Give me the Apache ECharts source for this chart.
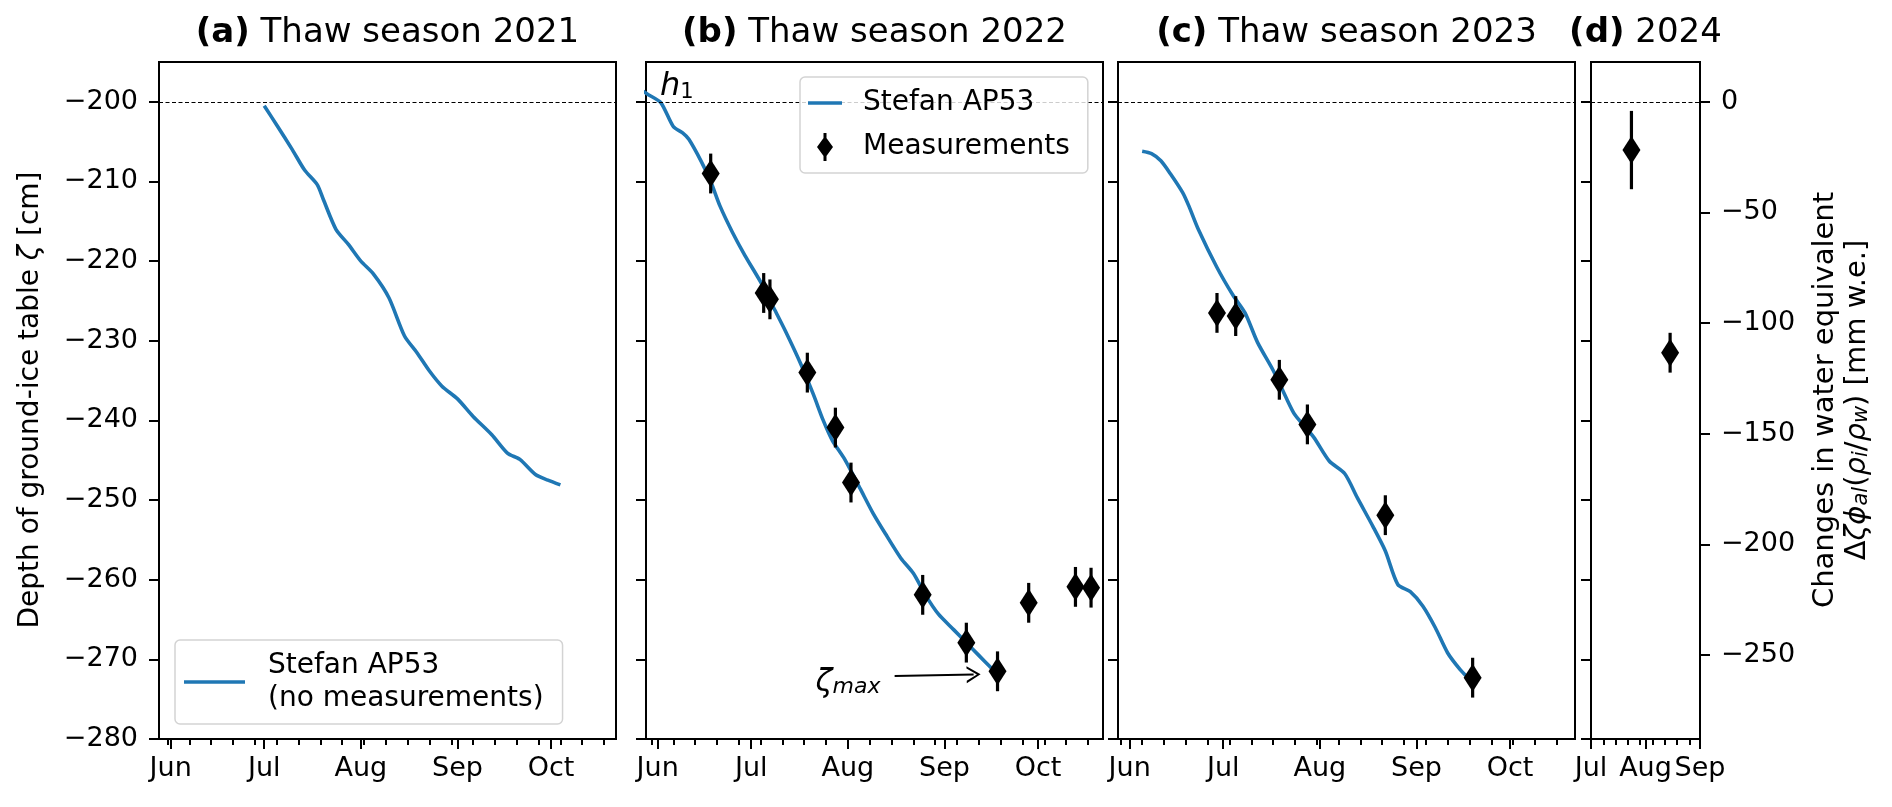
<!DOCTYPE html>
<html>
<head>
<meta charset="utf-8">
<title>Ground-ice table depth</title>
<script src="https://cdn.jsdelivr.net/npm/echarts@6/dist/echarts.min.js"></script>
<style>
html, body { margin: 0; padding: 0; background: #fff; }
#chart { width: 1892px; height: 807px; }
</style>
</head>
<body>
<div id="chart"></div>
<script>
var FONT = 'DejaVu Sans';
var BLUE = '#1f77b4';

// tick labels / categories
var monthNames = ['Jan', 'Feb', 'Mar', 'Apr', 'May', 'Jun', 'Jul', 'Aug', 'Sep', 'Oct', 'Nov', 'Dec'];
var depthTicks = [-280, -270, -260, -250, -240, -230, -220, -210, -200];
var weTicks = [-250, -200, -150, -100, -50, 0];
var panelTitles = [['(a)', ' Thaw season 2021'], ['(b)', ' Thaw season 2022'], ['(c)', ' Thaw season 2023'], ['(d)', ' 2024']];

// (a) 2021 Stefan model
var dates2021 = ['2021-07-01', '2021-07-05', '2021-07-10', '2021-07-14', '2021-07-18', '2021-07-20', '2021-07-24',
  '2021-07-28', '2021-08-01', '2021-08-05', '2021-08-10', '2021-08-15', '2021-08-19', '2021-08-23', '2021-08-27',
  '2021-09-01', '2021-09-06', '2021-09-12', '2021-09-17', '2021-09-21', '2021-09-26', '2021-09-30', '2021-10-04'];
var depth2021 = [-200.5, -202.9, -206.0, -208.6, -210.4, -212.3, -216.0,
  -217.9, -220.0, -221.6, -224.6, -229.4, -231.5, -233.8, -235.7,
  -237.3, -239.5, -241.8, -244.1, -244.9, -246.8, -247.5, -248.1];

// (b) 2022 Stefan model + measurements
var dates2022 = ['2022-05-27', '2022-05-29', '2022-06-02', '2022-06-06', '2022-06-09', '2022-06-11', '2022-06-15',
  '2022-06-18', '2022-06-21', '2022-06-25', '2022-06-29', '2022-07-04', '2022-07-08', '2022-07-12', '2022-07-17',
  '2022-07-21', '2022-07-24', '2022-07-27', '2022-07-31', '2022-08-05', '2022-08-09', '2022-08-13', '2022-08-18',
  '2022-08-22', '2022-08-26', '2022-08-30', '2022-09-04', '2022-09-08', '2022-09-12', '2022-09-16'];
var depth2022 = [-198.6, -199.1, -200.1, -203.1, -203.9, -204.7, -207.5,
  -210.0, -213.1, -216.4, -219.3, -222.6, -225.7, -228.8, -233.0,
  -236.8, -239.9, -242.5, -244.9, -248.6, -251.6, -254.2, -257.3,
  -259.2, -262.0, -264.3, -266.3, -267.9, -269.5, -271.1];
var measDates2022 = ['2022-06-18', '2022-07-05', '2022-07-07', '2022-07-19', '2022-07-28', '2022-08-02',
  '2022-08-25', '2022-09-08', '2022-09-18', '2022-09-28', '2022-10-13', '2022-10-18'];
var measDepth2022 = [-209.0, -224.0, -224.8, -234.0, -240.9, -247.8, -261.9, -267.9, -271.5, -262.9, -260.9, -261.0];
var measErr2022 = [2.5, 2.5, 2.5, 2.5, 2.5, 2.5, 2.5, 2.5, 2.5, 2.5, 2.5, 2.5];

// (c) 2023 Stefan model + measurements
var dates2023 = ['2023-06-05', '2023-06-08', '2023-06-11', '2023-06-14', '2023-06-18', '2023-06-20', '2023-06-23',
  '2023-06-29', '2023-07-04', '2023-07-08', '2023-07-12', '2023-07-17', '2023-07-21', '2023-07-24', '2023-07-30',
  '2023-08-04', '2023-08-09', '2023-08-13', '2023-08-18', '2023-08-22', '2023-08-26', '2023-08-30', '2023-09-03',
  '2023-09-07', '2023-09-11', '2023-09-15', '2023-09-17'];
var depth2023 = [-206.2, -206.5, -207.4, -209.0, -211.4, -213.1, -216.0,
  -220.8, -224.2, -226.5, -230.2, -233.7, -237.0, -239.3, -242.1,
  -245.1, -246.7, -249.7, -253.3, -256.4, -260.6, -261.5, -263.3,
  -266.0, -269.2, -271.3, -272.1];
var measDates2023 = ['2023-06-29', '2023-07-05', '2023-07-19', '2023-07-28', '2023-08-22', '2023-09-19'];
var measDepth2023 = [-226.5, -226.9, -234.9, -240.5, -251.9, -272.3];
var measErr2023 = [2.5, 2.5, 2.5, 2.5, 2.5, 2.5];

// (d) 2024 water-equivalent change [mm w.e.]
var measDates2024 = ['2024-07-24', '2024-08-15'];
var measWe2024 = [-21.8, -113.4];
var measErrWe2024 = [17.7, 9.0];

// annotation anchors (data coordinates of panel b)
var zetaArrowFrom = ['2022-08-16T00:00', -272.1];
var zetaArrowTo = ['2022-09-10T08:00', -271.9];

function ts(s) { return Date.parse(s.length === 10 ? s + 'T00:00:00Z' : s + ':00Z'); }
function fmtNum(v) { return v < 0 ? '\u2212' + Math.abs(v) : String(v); }
function fmtMonth(v) { return monthNames[new Date(v).getUTCMonth()]; }
function pairs(dates, vals) { return dates.map(function (d, i) { return [ts(d), vals[i]]; }); }

function mondays(min, max) {
  var out = [];
  var d = new Date(min);
  d.setUTCHours(0, 0, 0, 0);
  while (d.getUTCDay() !== 1 || d.getTime() < min) d.setUTCDate(d.getUTCDate() + 1);
  for (; d.getTime() <= max; d.setUTCDate(d.getUTCDate() + 7)) out.push(d.getTime());
  return out;
}
function monthStarts(min, max) {
  var out = [];
  var d0 = new Date(min);
  var d = new Date(Date.UTC(d0.getUTCFullYear(), d0.getUTCMonth(), 1));
  while (d.getTime() < min) d.setUTCMonth(d.getUTCMonth() + 1);
  for (; d.getTime() <= max; d.setUTCMonth(d.getUTCMonth() + 1)) out.push(d.getTime());
  return out;
}

var panels = [
  { left: 159, width: 457, min: ts('2021-05-28T06:00'), max: ts('2021-10-21T20:00') },
  { left: 646, width: 457, min: ts('2022-05-28T06:00'), max: ts('2022-10-21T20:00') },
  { left: 1118, width: 457, min: ts('2023-05-28T06:00'), max: ts('2023-10-21T20:00') },
  { left: 1591, width: 109, min: ts('2024-07-01'), max: ts('2024-09-01') }
];
var TOP = 62, HEIGHT = 677;

var grids = [], xAxes = [], yAxes = [];
panels.forEach(function (p, gi) {
  grids.push({
    left: p.left, top: TOP, width: p.width, height: HEIGHT,
    show: true, borderColor: '#000', borderWidth: 2, backgroundColor: 'transparent',
    containLabel: false, outerBoundsMode: 'none'
  });
  var majors = monthStarts(p.min, p.max);
  xAxes.push({
    type: 'value', gridIndex: gi, position: 'bottom', min: p.min, max: p.max,
    axisLine: { show: false, onZero: false }, splitLine: { show: false },
    axisTick: { show: true, customValues: majors, length: 10, lineStyle: { color: '#000', width: 2 } },
    axisLabel: {
      show: true, customValues: majors, formatter: fmtMonth, showMinLabel: true, showMaxLabel: true,
      fontSize: 27, color: '#000', fontFamily: FONT, margin: 16
    }
  });
  xAxes.push({
    type: 'value', gridIndex: gi, position: 'bottom', min: p.min, max: p.max,
    axisLine: { show: false, onZero: false }, splitLine: { show: false }, axisLabel: { show: false },
    axisTick: { show: true, customValues: mondays(p.min, p.max), length: 6, lineStyle: { color: '#000', width: 2 } }
  });
  yAxes.push({
    type: 'value', gridIndex: gi, position: 'left', min: -280, max: -195,
    axisLine: { show: false, onZero: false }, splitLine: { show: false },
    axisTick: { show: true, customValues: depthTicks, length: 10, lineStyle: { color: '#000', width: 2 } },
    axisLabel: {
      show: gi === 0, customValues: depthTicks, formatter: fmtNum,
      fontSize: 27, color: '#000', fontFamily: FONT, margin: 21
    }
  });
});
// right axis of panel d: water equivalent (1 cm depth = 3.6 mm w.e.)
yAxes.push({
  type: 'value', gridIndex: 3, position: 'right', min: -288, max: 18,
  axisLine: { show: false, onZero: false }, splitLine: { show: false },
  axisTick: { show: true, customValues: weTicks, length: 10, lineStyle: { color: '#000', width: 2 } },
  axisLabel: {
    show: true, customValues: weTicks, formatter: fmtNum,
    fontSize: 27, color: '#000', fontFamily: FONT, margin: 21
  }
});

var dashed = {
  silent: true, animation: false, symbol: ['none', 'none'], label: { show: false },
  lineStyle: { color: '#000', width: 1.2, type: [4, 2.5] }, emphasis: { disabled: true }
};
var DIAMOND = 'path://M8,0 L16,12 L8,24 L0,12 Z';
var DIAMOND_BAR = 'path://M8,3 L16,14 L8,25 L0,14 Z M6.5,0 L9.5,0 L9.5,28 L6.5,28 Z';
var ARROW = 'path://M0,12 L6,0 L12,12 L10.4,12 L6,3.2 L1.6,12 Z';
var LINE_A = 'path://M0,0 L61,0 L61,3.6 L0,3.6 Z';
var LINE_B = 'path://M0,0 L34,0 L34,3.6 L0,3.6 Z';

function modelLine(name, xi, yi, dates, vals) {
  return {
    name: name, type: 'line', xAxisIndex: xi, yAxisIndex: yi, data: pairs(dates, vals),
    symbol: 'none', showSymbol: false, smooth: 0.25, clip: true, silent: true, z: 2,
    lineStyle: { color: BLUE, width: 3.6 }, itemStyle: { color: BLUE },
    markLine: Object.assign({ data: [{ yAxis: -200 }] }, dashed)
  };
}
function errorBars(xi, yi, dates, vals, errs) {
  return {
    type: 'custom', xAxisIndex: xi, yAxisIndex: yi, silent: true, z: 3,
    data: dates.map(function (d, i) { return [ts(d), vals[i] - errs[i], vals[i] + errs[i]]; }),
    encode: { x: 0, y: [1, 2] },
    renderItem: function (params, api) {
      var x = api.value(0);
      var p1 = api.coord([x, api.value(1)]);
      var p2 = api.coord([x, api.value(2)]);
      return {
        type: 'line', shape: { x1: p1[0], y1: p1[1], x2: p2[0], y2: p2[1] },
        style: { stroke: '#000', lineWidth: 3.2 }
      };
    }
  };
}
function measurements(xi, yi, dates, vals) {
  return {
    name: 'Measurements', type: 'scatter', xAxisIndex: xi, yAxisIndex: yi, data: pairs(dates, vals),
    symbol: DIAMOND, symbolSize: [18, 28], itemStyle: { color: '#000', opacity: 1 }, silent: true, z: 4
  };
}

var seriesB = measurements(2, 1, measDates2022, measDepth2022);
seriesB.markLine = {
  silent: true, animation: false, symbol: ['none', ARROW], label: { show: false },
  lineStyle: { color: '#000', width: 2, type: 'solid' },
  data: [[
    { coord: [ts(zetaArrowFrom[0]), zetaArrowFrom[1]], symbol: 'none' },
    { coord: [ts(zetaArrowTo[0]), zetaArrowTo[1]], symbol: ARROW, symbolSize: [17, 14] }
  ]]
};
var seriesD = measurements(6, 4, measDates2024, measWe2024);
seriesD.markLine = Object.assign({ data: [{ yAxis: 0 }] }, dashed);

var series = [
  modelLine('Stefan AP53 (no measurements)', 0, 0, dates2021, depth2021),
  modelLine('Stefan AP53', 2, 1, dates2022, depth2022),
  errorBars(2, 1, measDates2022, measDepth2022, measErr2022),
  seriesB,
  modelLine('Stefan AP53', 4, 2, dates2023, depth2023),
  errorBars(4, 2, measDates2023, measDepth2023, measErr2023),
  measurements(4, 2, measDates2023, measDepth2023),
  errorBars(6, 4, measDates2024, measWe2024, measErrWe2024),
  seriesD
];

var legendBox = {
  orient: 'vertical', selectedMode: false, z: 10, symbolKeepAspect: true,
  backgroundColor: 'rgba(255,255,255,0.8)', borderColor: '#d3d3d3', borderWidth: 1.5, borderRadius: 5
};
var legends = [
  Object.assign({
    left: 175, top: 640, padding: [9, 19, 9, 9], itemWidth: 61, itemHeight: 14,
    data: [{ name: 'Stefan AP53 (no measurements)', icon: LINE_A }],
    formatter: function () { return 'Stefan AP53\n(no measurements)'; },
    textStyle: { fontSize: 28, fontFamily: FONT, color: '#000', lineHeight: 33, padding: [0, 0, 0, 18] }
  }, legendBox),
  Object.assign({
    left: 800, top: 77, padding: [10, 18, 10, 8], itemWidth: 34, itemHeight: 28, itemGap: 12,
    data: [{ name: 'Stefan AP53', icon: LINE_B }, { name: 'Measurements', icon: DIAMOND_BAR }],
    textStyle: { fontSize: 28, fontFamily: FONT, color: '#000', lineHeight: 32, padding: [0, 0, 0, 16] }
  }, legendBox)
];

var titleCenters = panels.map(function (p) { return p.left + p.width / 2; });
var graphics = panelTitles.map(function (t, i) {
  return {
    type: 'text', x: titleCenters[i], y: 33, silent: true,
    style: {
      text: '{b|' + t[0] + '}{n|' + t[1] + '}', align: 'center', verticalAlign: 'middle',
      rich: {
        b: { fontSize: 34, fontWeight: 'bold', fontFamily: FONT, fill: '#000' },
        n: { fontSize: 34, fontFamily: FONT, fill: '#000' }
      }
    }
  };
});
var mathRich = {
  n: { fontSize: 29, fontFamily: FONT, fill: '#000', lineHeight: 32, verticalAlign: 'bottom' },
  g: { fontSize: 29, fontFamily: FONT, fill: '#000', lineHeight: 32, verticalAlign: 'bottom' },
  i: { fontSize: 29, fontFamily: FONT, fontStyle: 'italic', fill: '#000', lineHeight: 32, verticalAlign: 'bottom' },
  si: { fontSize: 21, fontFamily: FONT, fontStyle: 'italic', fill: '#000', lineHeight: 22, verticalAlign: 'bottom' }
};
var leftRich = {
  n: { fontSize: 28, fontFamily: FONT, fill: '#000', lineHeight: 32 },
  i: { fontSize: 28, fontFamily: FONT, fontStyle: 'italic', fill: '#000', lineHeight: 32 }
};
graphics.push({
  type: 'text', x: 31, y: 400, rotation: Math.PI / 2, silent: true,
  style: { text: '{n|Depth of ground-ice table }{i|\u03b6}{n| [cm]}', align: 'center', verticalAlign: 'middle', rich: leftRich }
});
graphics.push({
  type: 'text', x: 1840, y: 400, rotation: Math.PI / 2, silent: true,
  style: {
    text: '{n|Changes in water equivalent}\n{g|\u0394}{i|\u03b6\u03d5}{si|al}{n|(}{i|\u03c1}{si|i}{n|/}{i|\u03c1}{si|w}{n|) [mm w.e.]}',
    align: 'center', verticalAlign: 'middle', rich: mathRich
  }
});
graphics.push({
  type: 'text', x: 660, y: 86, silent: true,
  style: {
    text: '{h|h}{s|1}', align: 'left', verticalAlign: 'middle',
    rich: {
      h: { fontSize: 32, fontFamily: FONT, fontStyle: 'italic', fill: '#000', lineHeight: 34, verticalAlign: 'bottom' },
      s: { fontSize: 21, fontFamily: FONT, fill: '#000', lineHeight: 21, verticalAlign: 'bottom' }
    }
  }
});
graphics.push({
  type: 'text', x: 848, y: 681, silent: true,
  style: {
    text: '{z|\u03b6}{s|max}', align: 'center', verticalAlign: 'middle',
    rich: {
      z: { fontSize: 31, fontFamily: FONT, fontStyle: 'italic', fill: '#000', lineHeight: 34, verticalAlign: 'bottom' },
      s: { fontSize: 22, fontFamily: FONT, fontStyle: 'italic', fill: '#000', lineHeight: 22, verticalAlign: 'bottom' }
    }
  }
});

var chart = echarts.init(document.getElementById('chart'), null, { renderer: 'canvas' });
chart.setOption({
  animation: false,
  backgroundColor: '#fff',
  textStyle: { fontFamily: FONT },
  grid: grids,
  xAxis: xAxes,
  yAxis: yAxes,
  legend: legends,
  series: series,
  graphic: graphics
});
</script>
</body>
</html>
